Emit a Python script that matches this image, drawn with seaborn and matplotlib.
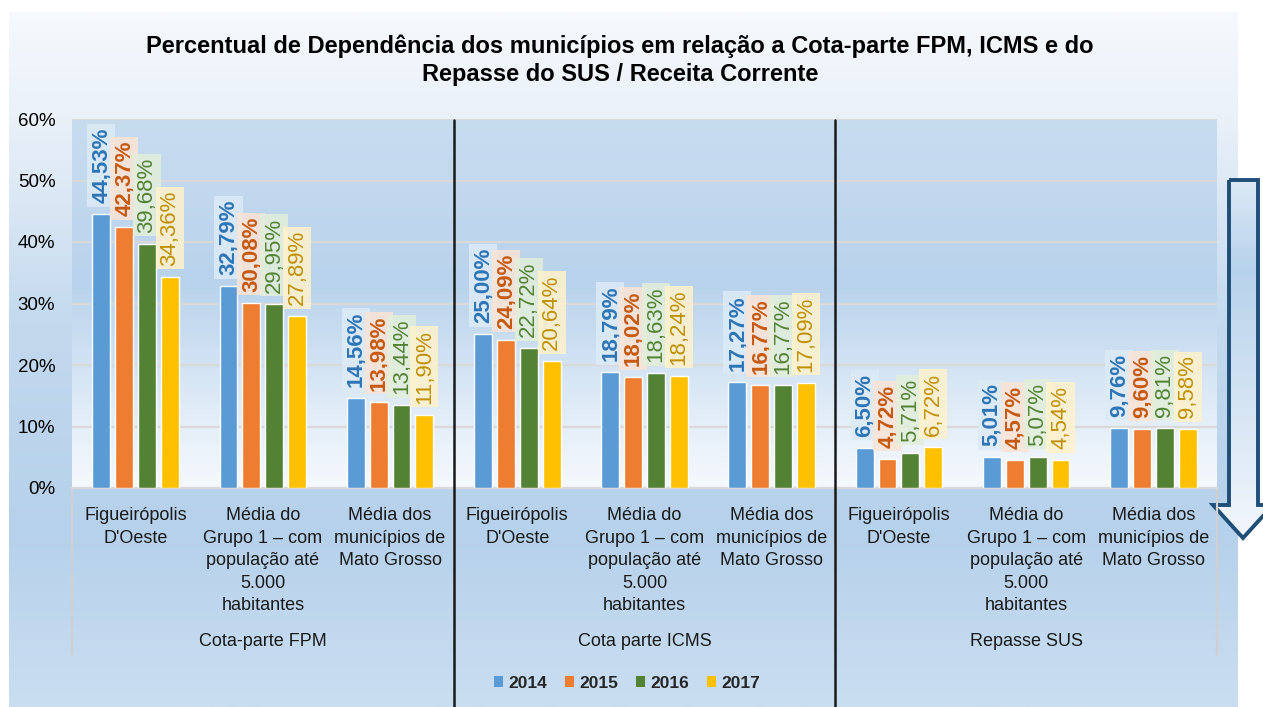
import matplotlib.pyplot as plt
import matplotlib.colors as mcolors
from matplotlib.patches import Patch, Polygon
import seaborn as sns
import pandas as pd
import numpy as np

# categories / groups
grupos = ["Cota-parte FPM", "Cota parte ICMS", "Repasse SUS"]
categorias = [
    "Figueirópolis\nD'Oeste",
    "Média do\nGrupo 1 – com\npopulação até\n5.000\nhabitantes",
    "Média dos\nmunicípios de\nMato Grosso",
]
anos = ["2014", "2015", "2016", "2017"]

# values (%) per group, per category, per year
fpm = [[44.53, 42.37, 39.68, 34.36],
       [32.79, 30.08, 29.95, 27.89],
       [14.56, 13.98, 13.44, 11.90]]
icms = [[25.00, 24.09, 22.72, 20.64],
        [18.79, 18.02, 18.63, 18.24],
        [17.27, 16.77, 16.77, 17.09]]
sus = [[6.50, 4.72, 5.71, 6.72],
       [5.01, 4.57, 5.07, 4.54],
       [9.76, 9.60, 9.81, 9.58]]

cores = ["#5B9BD5", "#ED7D31", "#548235", "#FFC000"]
cores_rotulo = ["#2E75B6", "#C55A11", "#548235", "#BF9000"]
fundo_rotulo = ["#DDEBF7", "#FBE4D5", "#E2EFDA", "#FFF2CC"]
peso_rotulo = ["bold", "bold", "normal", "normal"]

linhas = []
for g, valores in zip(grupos, [fpm, icms, sus]):
    for c, vals in zip(categorias, valores):
        for a, v in zip(anos, vals):
            linhas.append({"chave": g + "|" + c, "ano": a, "valor": v})
df = pd.DataFrame(linhas)
ordem = list(dict.fromkeys(df["chave"]))

sns.set_style("white")
plt.rcParams["font.family"] = ["Liberation Sans", "DejaVu Sans"]

W, H = 1263, 707
fig = plt.figure(figsize=(W / 100, H / 100), dpi=100)
fig.patch.set_facecolor("white")

# background of the chart area (pixel coordinates)
bg = fig.add_axes([0, 0, 1, 1], zorder=0)
bg.set_xlim(0, W)
bg.set_ylim(H, 0)
bg.axis("off")
cmap_bg = mcolors.LinearSegmentedColormap.from_list(
    "bg", [(0, "#F6F9FD"), (0.15, "#EAF1F9"), (0.45, "#C3D9EE"),
           (0.75, "#B6D1EB"), (1, "#CADEF1")])
grad = np.linspace(0, 1, 256).reshape(-1, 1)
bg.imshow(grad, cmap=cmap_bg, extent=[9, 1238, H, 12], aspect="auto")

# arrow on the right
cmap_arrow = mcolors.LinearSegmentedColormap.from_list(
    "arr", [(0, "#DCE9F5"), (0.25, "#B7D2EB"), (1, "#F3F7FC")])
pts = [(1229, 180), (1258, 180), (1258, 505), (1273, 505), (1243, 538),
       (1213, 505), (1229, 505)]
seta = Polygon(pts, closed=True, facecolor="none", edgecolor="#1F4E79",
               linewidth=2.8, joinstyle="miter", zorder=3)
img = bg.imshow(grad, cmap=cmap_arrow, extent=[1213, 1273, 538, 180],
                aspect="auto", zorder=2)
bg.add_patch(seta)
img.set_clip_path(seta)
bg.set_xlim(0, W)
bg.set_ylim(H, 0)

# main axes
left, right, top, bottom = 72, 1217, 119, 488
ax = fig.add_axes([left / W, 1 - bottom / H, (right - left) / W, (bottom - top) / H], zorder=1)
ax.patch.set_alpha(0)

sns.barplot(data=df, x="chave", y="valor", hue="ano", order=ordem,
            palette=cores, saturation=1, width=0.72, gap=0.22,
            legend=False, ax=ax, zorder=3)

cmap_plot = mcolors.LinearSegmentedColormap.from_list(
    "plot", [(0, "#C8DCF0"), (0.45, "#B9D3EC"), (0.8, "#E2EDF8"), (1, "#F5F9FD")])
ax.imshow(grad, cmap=cmap_plot, extent=[-0.5, 8.5, 0, 60], aspect="auto", zorder=0)

ax.set_xlim(-0.5, 8.5)
ax.set_ylim(0, 60)
ax.set_yticks(range(0, 61, 10))
ax.set_yticklabels([f"{t}%" for t in range(0, 61, 10)], fontsize=13.5, color="#000000")
ax.yaxis.grid(True, color="#D9D9D9", linewidth=1.6, zorder=1)
ax.set_axisbelow(False)
for gl in ax.get_ygridlines():
    gl.set_zorder(1)
ax.tick_params(axis="y", length=0, pad=12)
ax.tick_params(axis="x", length=0, pad=14)
ax.set_xticks(range(len(ordem)))
ax.set_xticklabels([k.split("|")[1] for k in ordem], fontsize=13, color="#1A1A1A",
                   linespacing=1.42, va="top")
ax.set_xlabel("")
ax.set_ylabel("")
for s in ["left", "right", "top"]:
    ax.spines[s].set_visible(False)
ax.spines["bottom"].set_color("#D9D9D9")
ax.spines["bottom"].set_linewidth(1.6)

# data labels
for i, cont in enumerate(ax.containers):
    for barra in cont:
        h = barra.get_height()
        xc = barra.get_x() + barra.get_width() / 2
        ax.annotate(f"{h:.2f}%".replace(".", ","), (xc, h), xytext=(0, 8),
                    textcoords="offset points", rotation=90, ha="center", va="bottom",
                    fontsize=16, color=cores_rotulo[i], fontweight=peso_rotulo[i],
                    bbox=dict(facecolor=fundo_rotulo[i], edgecolor="none", alpha=0.85, pad=2.5),
                    zorder=4, annotation_clip=False)

# group separators and labels
px = 1 / (bottom - top)
for xs in [-0.5, 2.5, 5.5, 8.5]:
    ax.axvline(xs, ymin=-(655 - bottom) * px, ymax=0, color="#D0D0D0",
               linewidth=1.6, clip_on=False, zorder=2)
for xs in [2.5, 5.5]:
    ax.axvline(xs, ymin=-(H - bottom) * px, ymax=1 - 1 * px, color="#1A1A1A",
               linewidth=1.8, clip_on=False, zorder=5)
trans = ax.get_xaxis_transform()
for j, g in enumerate(grupos):
    ax.text(3 * j + 1, -(641 - bottom) * px, g, transform=trans, ha="center",
            va="center", fontsize=13, color="#1A1A1A")

fig.text(620 / W, 1 - 60 / H,
         "Percentual de Dependência dos municípios em relação a Cota-parte FPM, ICMS e do\n"
         "Repasse do SUS / Receita Corrente",
         ha="center", va="center", fontsize=17, fontweight="bold", linespacing=1.3,
         color="black")

handles = [Patch(facecolor=c, edgecolor="none", label=a) for c, a in zip(cores, anos)]
leg = fig.legend(handles=handles, loc="center", bbox_to_anchor=(627 / W, 1 - 683 / H),
                 ncol=4, frameon=False, handlelength=0.55, handleheight=0.55,
                 handletextpad=0.3, columnspacing=1.0, prop={"weight": "bold", "size": 12.5})

fig.savefig("out.png", dpi=100)
